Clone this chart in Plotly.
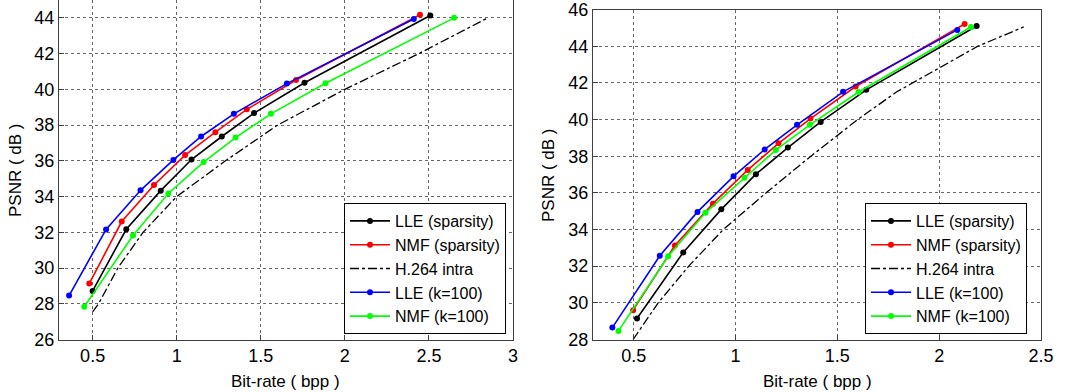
import plotly.graph_objects as go

# ---- left panel data (bit-rate in bpp, PSNR in dB) ----
left_lle_sp_x = [0.50, 0.70, 0.905, 1.088, 1.268, 1.46, 1.76, 2.508]
left_lle_sp_y = [28.72, 32.17, 34.33, 36.07, 37.36, 38.67, 40.37, 44.13]
left_nmf_sp_x = [0.48, 0.673, 0.865, 1.05, 1.23, 1.417, 1.71, 2.447]
left_nmf_sp_y = [29.13, 32.6, 34.65, 36.32, 37.6, 38.88, 40.52, 44.17]
left_h264_x = [0.50, 0.535, 0.65, 0.80, 1.00, 1.29, 1.60, 2.00, 2.44, 2.85]
left_h264_y = [27.55, 28.0, 30.0, 32.0, 34.0, 36.0, 38.0, 40.0, 42.0, 44.0]
left_lle_k_x = [0.36, 0.58, 0.785, 0.98, 1.145, 1.34, 1.655, 2.41]
left_lle_k_y = [28.46, 32.16, 34.35, 36.05, 37.36, 38.63, 40.32, 43.94]
left_nmf_k_x = [0.45, 0.74, 0.95, 1.16, 1.35, 1.56, 1.885, 2.65]
left_nmf_k_y = [27.83, 31.82, 34.17, 35.93, 37.3, 38.63, 40.34, 44.0]

# ---- right panel data ----
right_lle_sp_x = [0.516, 0.743, 0.93, 1.10, 1.257, 1.418, 1.642, 2.184]
right_lle_sp_y = [29.15, 32.75, 35.1, 37.02, 38.47, 39.87, 41.62, 45.1]
right_nmf_sp_x = [0.497, 0.702, 0.889, 1.06, 1.211, 1.368, 1.59, 2.125]
right_nmf_sp_y = [29.6, 33.13, 35.41, 37.25, 38.7, 40.05, 41.8, 45.21]
right_h264_x = [0.497, 0.62, 0.77, 0.94, 1.15, 1.37, 1.60, 1.79, 2.19, 2.415]
right_h264_y = [28.0, 30.0, 32.0, 34.0, 36.0, 38.0, 40.0, 41.5, 44.0, 45.05]
right_lle_k_x = [0.395, 0.628, 0.813, 0.99, 1.143, 1.302, 1.528, 2.089]
right_lle_k_y = [28.65, 32.57, 34.96, 36.9, 38.37, 39.71, 41.51, 44.89]
right_nmf_k_x = [0.425, 0.669, 0.852, 1.044, 1.198, 1.365, 1.604, 2.156]
right_nmf_k_y = [28.47, 32.54, 34.91, 36.82, 38.34, 39.71, 41.5, 45.05]

names = ["LLE (sparsity)", "NMF (sparsity)", "H.264 intra", "LLE (k=100)", "NMF (k=100)"]
colors = ["#000000", "#ff0000", "#000000", "#0000ff", "#00ff00"]

FONT = "Liberation Sans, Arial, sans-serif"

left_series = [
    (left_lle_sp_x, left_lle_sp_y),
    (left_nmf_sp_x, left_nmf_sp_y),
    (left_h264_x, left_h264_y),
    (left_lle_k_x, left_lle_k_y),
    (left_nmf_k_x, left_nmf_k_y),
]
right_series = [
    (right_lle_sp_x, right_lle_sp_y),
    (right_nmf_sp_x, right_nmf_sp_y),
    (right_h264_x, right_h264_y),
    (right_lle_k_x, right_lle_k_y),
    (right_nmf_k_x, right_nmf_k_y),
]

fig = go.Figure()


def add_panel(series, xa, ya, legend):
    for i, (x, y) in enumerate(series):
        if names[i] == "H.264 intra":
            fig.add_trace(go.Scatter(
                x=x, y=y, mode="lines", name=names[i],
                line=dict(color=colors[i], width=1.3, dash="dashdot"),
                xaxis=xa, yaxis=ya, legend=legend,
            ))
        else:
            fig.add_trace(go.Scatter(
                x=x, y=y, mode="lines+markers", name=names[i],
                line=dict(color=colors[i], width=1.6),
                marker=dict(color=colors[i], size=6, symbol="circle"),
                xaxis=xa, yaxis=ya, legend=legend,
            ))


add_panel(left_series, "x", "y", "legend")
add_panel(right_series, "x2", "y2", "legend2")

axis_common = dict(
    showline=True, linecolor="#404040", linewidth=1, mirror=True,
    ticks="inside", ticklen=5, tickcolor="#404040",
    showgrid=True, gridcolor="#666666", gridwidth=1, griddash="dot",
    zeroline=False, automargin=False, ticklabeloverflow="allow",
    tickfont=dict(family=FONT, size=18, color="#000000"),
)
title_font = dict(family=FONT, size=17, color="#000000")

legend_common = dict(
    bgcolor="white", bordercolor="#000000", borderwidth=1,
    font=dict(family=FONT, size=16, color="#000000"),
    xanchor="right", yanchor="bottom",
    tracegroupgap=0, itemwidth=40,
)

# axis titles as annotations so they sit where the reference puts them
titles = [
    ("Bit-rate ( bpp )", 285 / 1066, 1 - 381 / 392, 0),
    ("Bit-rate ( bpp )", 817 / 1066, 1 - 381 / 392, 0),
    ("PSNR ( dB )", 15 / 1066, 1 - 170 / 392, -90),
    ("PSNR ( dB )", 548 / 1066, 1 - 175 / 392, -90),
]
annotations = [
    dict(text=t, x=x, y=y, xref="paper", yref="paper", showarrow=False,
         textangle=a, font=title_font, xanchor="center", yanchor="middle")
    for t, x, y, a in titles
]

fig.update_layout(
    width=1066, height=392,
    margin=dict(l=0, r=0, t=0, b=0),
    plot_bgcolor="white", paper_bgcolor="white",
    xaxis=dict(domain=[59 / 1066, 513 / 1066], range=[0.3, 3], dtick=0.5, tick0=0,
               anchor="y", **axis_common),
    yaxis=dict(domain=[1 - 339.5 / 392, 1.0], range=[26, 45], dtick=2, tick0=26,
               anchor="x", **axis_common),
    xaxis2=dict(domain=[593 / 1066, 1041 / 1066], range=[0.3, 2.5], dtick=0.5, tick0=0,
                anchor="y2", **axis_common),
    yaxis2=dict(domain=[1 - 339.5 / 392, 1 - 9.5 / 392], range=[28, 46.002], dtick=2, tick0=28,
                anchor="x2", **axis_common),
    legend=dict(x=506 / 1066, y=1 - 334 / 392, **legend_common),
    legend2=dict(x=1027 / 1066, y=1 - 334 / 392, **legend_common),
    annotations=annotations,
)

# the page body has a default 8px margin; drop it so the figure sits at 0,0
fig.write_html("out.html", config={"displayModeBar": False},
               post_script="document.body.style.margin='0';")
